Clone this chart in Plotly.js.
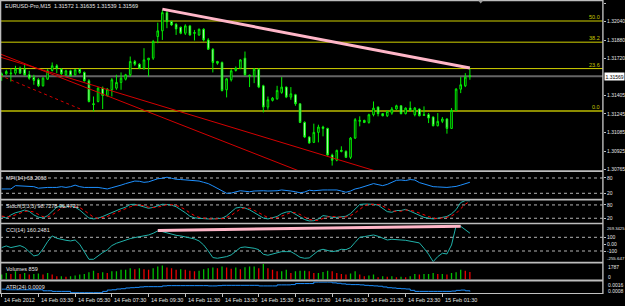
<!DOCTYPE html>
<html><head><meta charset="utf-8">
<script src="https://cdn.plot.ly/plotly-3.0.1.min.js"></script>
<style>html,body{margin:0;padding:0;background:#000;overflow:hidden}#chart{width:625px;height:306px}</style>
</head><body><div id="chart"></div>
<script>
// ---------------- DATA ----------------
const symbolTitle = "EURUSD-Pro,M15  1.31572 1.31635 1.31539 1.31569";
const tickLabels = ["14 Feb 2012","14 Feb 03:30","14 Feb 05:30","14 Feb 07:30","14 Feb 09:30","14 Feb 11:30","14 Feb 13:30","14 Feb 15:30","14 Feb 17:30","14 Feb 19:30","14 Feb 21:30","14 Feb 23:30","15 Feb 01:30"];
const tickBars = [0,8,16,24,32,40,48,56,64,72,80,88,96];
const priceTicks = [1.32200,1.32040,1.31880,1.31720,1.31405,1.31245,1.31085,1.30925,1.30765];

const open = [1.31573,1.31590,1.31590,1.31596,1.31639,1.31630,1.31582,1.31559,1.31539,1.31487,
1.31544,1.31619,1.31659,1.31630,1.31582,1.31616,1.31582,1.31630,1.31602,1.31530,
1.31332,1.31352,1.31467,1.31401,1.31453,1.31467,1.31516,1.31544,1.31582,1.31696,
1.31673,1.31639,1.31710,1.31725,1.31911,1.31960,1.32117,1.32040,1.32017,1.31991,
1.31940,1.32003,1.31945,1.31925,1.31974,1.31882,1.31802,1.31696,1.31688,1.31453,
1.31539,1.31619,1.31639,1.31725,1.31579,1.31573,1.31630,1.31487,1.31304,1.31361,
1.31375,1.31430,1.31476,1.31390,1.31410,1.31332,1.31172,1.31046,1.31000,1.31086,
1.31132,1.31120,1.30891,1.30846,1.30931,1.30923,1.30871,1.31037,1.31181,1.31189,
1.31172,1.31238,1.31304,1.31247,1.31229,1.31252,1.31287,1.31315,1.31247,1.31295,
1.31238,1.31287,1.31232,1.31238,1.31218,1.31143,1.31181,1.31201,1.31120,1.31275,
1.31458,1.31487,1.31572];
const high = [1.31602,1.31625,1.31639,1.31659,1.31653,1.31668,1.31616,1.31582,1.31553,1.31562,
1.31630,1.31688,1.31673,1.31639,1.31625,1.31625,1.31630,1.31639,1.31610,1.31544,
1.31395,1.31476,1.31481,1.31467,1.31553,1.31582,1.31602,1.31590,1.31739,1.31710,
1.31682,1.31811,1.31725,1.31882,1.32031,1.32140,1.32140,1.32048,1.32026,1.31997,
1.32017,1.32011,1.31968,1.31980,1.31983,1.31897,1.31811,1.31702,1.31696,1.31553,
1.31630,1.31653,1.31716,1.31782,1.31582,1.31639,1.31639,1.31496,1.31395,1.31390,
1.31487,1.31562,1.31481,1.31476,1.31418,1.31338,1.31181,1.31052,1.31161,1.31152,
1.31143,1.31126,1.30903,1.30937,1.30966,1.30931,1.31046,1.31209,1.31224,1.31195,
1.31247,1.31352,1.31310,1.31252,1.31275,1.31304,1.31324,1.31321,1.31301,1.31352,
1.31304,1.31292,1.31310,1.31252,1.31224,1.31252,1.31218,1.31209,1.31295,1.31467,
1.31562,1.31596,1.31635];
const low = [1.31530,1.31582,1.31524,1.31582,1.31590,1.31573,1.31539,1.31496,1.31476,1.31481,
1.31539,1.31610,1.31596,1.31573,1.31573,1.31567,1.31573,1.31590,1.31524,1.31344,
1.31267,1.31344,1.31287,1.31395,1.31395,1.31453,1.31453,1.31533,1.31567,1.31659,
1.31630,1.31625,1.31567,1.31710,1.31854,1.31882,1.31983,1.32003,1.31925,1.31931,
1.31925,1.31917,1.31877,1.31917,1.31868,1.31796,1.31602,1.31668,1.31438,1.31387,
1.31524,1.31610,1.31630,1.31573,1.31476,1.31510,1.31467,1.31258,1.31281,1.31352,
1.31367,1.31418,1.31381,1.31367,1.31315,1.31166,1.31037,1.30989,1.30994,1.31000,
1.31052,1.30886,1.30800,1.30837,1.30914,1.30866,1.30857,1.31029,1.31138,1.31166,
1.31161,1.31224,1.31224,1.31224,1.31218,1.31238,1.31281,1.31241,1.31241,1.31267,
1.31224,1.31224,1.31229,1.31166,1.31138,1.31138,1.31166,1.31075,1.31115,1.31267,
1.31424,1.31476,1.31539];
const close = [1.31590,1.31610,1.31596,1.31630,1.31596,1.31582,1.31553,1.31533,1.31487,1.31553,
1.31616,1.31659,1.31639,1.31590,1.31616,1.31573,1.31625,1.31602,1.31530,1.31352,
1.31327,1.31467,1.31404,1.31458,1.31539,1.31516,1.31553,1.31582,1.31696,1.31673,
1.31639,1.31710,1.31725,1.31868,1.31960,1.32117,1.32040,1.32011,1.31977,1.31940,
1.32003,1.31925,1.31940,1.31974,1.31882,1.31802,1.31688,1.31682,1.31447,1.31547,
1.31616,1.31639,1.31710,1.31582,1.31573,1.31630,1.31476,1.31304,1.31367,1.31381,
1.31447,1.31476,1.31390,1.31418,1.31332,1.31172,1.31046,1.30994,1.31086,1.31132,
1.31120,1.30891,1.30846,1.30931,1.30923,1.30871,1.31037,1.31195,1.31189,1.31172,
1.31238,1.31295,1.31247,1.31229,1.31267,1.31287,1.31315,1.31247,1.31295,1.31275,
1.31295,1.31229,1.31238,1.31209,1.31143,1.31181,1.31201,1.31120,1.31275,1.31458,
1.31496,1.31562,1.31569];

const mfi = [37,37,37,50,49,49,49,46,40,43,
43,43,43,46,43,46,52,46,43,43,
43,43,40,37,42,46,52,58,63,68,
67,63,65,72,77,79,83,79,75,74,
72,71,70,68,63,58,49,40,29,20,
21,25,30,28,26,29,30,30,29,29,
30,33,32,29,26,22,25,32,30,32,
33,33,34,33,29,24,29,37,41,46,
52,58,54,50,55,63,71,72,70,74,
72,62,57,52,46,45,43,43,45,47,
52,57,63.2063];
const stochMain = [27,21,35,45,50,57,51,35,25,21,
32,50,70,76,70,76,70,57,38,21,
17,20,28,37,47,55,63,70,82,83,
76,70,65,69,77,83,82,79,72,59,
45,29,22,20,17,17,17,17,20,31,
48,66,70,66,58,45,31,21,17,21,
28,41,48,50,38,24,14,8,9,17,
32,29,24,24,25,29,41,63,82,84,
84,83,79,63,50,47,55,55,60,52,
42,34,24,20,17,20,25,28,40,59,
91,99.7,98.7278];
const stochSignal = [30,26,28,34,43,51,53,48,37,27,
26,34,51,65,72,74,72,68,55,39,
25,19,22,28,37,46,55,63,72,78,
80,76,70,68,70,76,81,81,78,70,
59,44,32,24,20,18,17,17,18,23,
33,48,61,67,65,56,45,32,23,20,
22,30,39,46,45,37,25,15,10,11,
19,26,28,26,24,26,32,44,62,76,
83,84,82,75,64,53,51,52,57,56,
51,43,33,26,20,19,21,24,31,42,
63,83,96.4721];
const cci = [-50,-26,-50,-31,-21,-50,-109,-172,-157,-70,
37,120,86,66,56,47,61,-2,-119,-221,
-221,-167,-123,-85,-21,13,37,61,81,96,
110,120,134,159,193,183,164,144,129,120,
105,96,76,47,-12,-99,-196,-206,-196,-182,
-157,-99,-50,-41,-50,-60,-80,-148,-162,-143,
-128,-109,-109,-109,-148,-192,-206,-201,-148,-94,
-75,-89,-109,-99,-75,-80,-50,27,100,110,
120,134,115,86,61,71,71,61,56,47,
37,18,-60,-148,-255.647,-182,-133,-143,-12,269.3425,
260,215,160.2481];
const volume = [558,744,632,930,632,744,558,632,670,558,
744,558,372,372,298,372,446,558,632,818,
1004,744,818,744,930,930,1116,1116,1302,1190,
1302,1190,1116,1302,1488,1600,1376,1302,1116,1190,
1116,1004,930,1004,1190,1302,1376,1302,1488,1376,
1228,1376,1190,1414,1488,1488,1302,1787,1302,1116,
930,930,1116,744,930,1004,1004,930,744,744,
856,1004,930,744,632,558,670,930,558,372,
446,558,260,372,298,372,260,298,260,372,
632,558,632,632,744,632,632,558,744,818,
1116,1004,859];
const atr = [0.00108,0.00104,0.00104,0.00104,0.00104,0.00104,0.00104,0.00104,0.00104,0.00097,
0.00097,0.00093,0.00093,0.00093,0.00093,0.00084,0.00084,0.00084,0.00084,0.00084,
0.00084,0.00084,0.00093,0.00102,0.00104,0.00109,0.00111,0.00116,0.00118,0.00120,
0.00123,0.00125,0.00125,0.00125,0.00125,0.00130,0.00132,0.00132,0.00132,0.00132,
0.00132,0.00132,0.00132,0.00132,0.00132,0.00130,0.00130,0.00132,0.00134,0.00134,
0.00134,0.00134,0.00134,0.00134,0.00134,0.00134,0.00130,0.00130,0.00130,0.00130,
0.00137,0.00137,0.00137,0.00139,0.00146,0.00146,0.00146,0.00146,0.00156,0.00156,
0.00156,0.00156,0.00151,0.00148,0.00144,0.00141,0.00139,0.00139,0.00137,0.00134,
0.00132,0.00130,0.00128,0.00123,0.00118,0.00116,0.00113,0.00111,0.00109,0.00100,
0.00093,0.00093,0.00093,0.00093,0.00093,0.00093,0.00093,0.00093,0.00095,0.00100,
0.00102,0.00097,0.00092];

// Fibonacci retracement (0% and 100% anchor prices) and shown levels
const fib0 = 1.31269, fib100 = 1.32821;
const fibLevels = [50.0, 38.2, 23.6, 0.0];
// Trend lines (bar index, value)
const pinkPriceX = [35, 102], pinkPriceY = [1.32147, 1.31641];
const pinkCciX = [34, 100], pinkCciY = [200, 262];
const redAX = [-0.4, 85], redAY = [1.31735, 1.30711];
const redBX = [-0.4, 66], redBY = [1.31762, 1.30735];
const redCX = [-0.4, 17.5], redCY = [1.31577, 1.31281];
const mfiLevels = [80, 20], stochLevels = [80, 20], cciLevels = [100, -100];

// ---------------- LAYOUT HELPERS ----------------
const W = 625, H = 306, MT = 1, MB = 13, ML = 0, MR = 22;
const PH = H - MT - MB, PW = W - ML - MR;
const py = y => (H - MB - y) / PH;
const px = x => (x - ML) / PW;
const bars = open.map((_, i) => i);
const last = close.length - 1;
const fontFam = 'Liberation Sans, Arial, sans-serif';
const tf = {family: fontFam, size: 5.5, color: '#e6e6e6'};
const rf = {family: fontFam, size: 5, color: '#e6e6e6'};

function yax(topPx, botPx, range, tickvals, ticktext) {
  return {domain: [py(botPx), py(topPx)], range, side: 'right', anchor: 'x',
    showgrid: false, zeroline: false, showline: false, ticks: 'outside', ticklen: 2,
    tickwidth: 1, tickcolor: '#c0c0c0', tickvals, ticktext, tickfont: rf, fixedrange: true};
}
const cciMax = Math.max(...cci), cciMin = Math.min(...cci);
const volMax = Math.max(...volume);
const atrMax = Math.max(...atr), atrMin = Math.min(...atr);

const layout = {
  width: W, height: H, margin: {l: ML, r: MR, t: MT, b: MB},
  paper_bgcolor: '#000', plot_bgcolor: '#000', showlegend: false,
  boxgap: 0.5,
  xaxis: {domain: [0, 1], range: [-0.37, 131.0], anchor: 'y6', showgrid: false, zeroline: false,
    showline: true, linecolor: '#c0c0c0', linewidth: 1, ticks: 'outside', ticklen: 3, tickcolor: '#c0c0c0',
    tickvals: tickBars, showticklabels: false, rangeslider: {visible: false}, fixedrange: true},
  yaxis: yax(2, 170, [1.30762, 1.322086], priceTicks, priceTicks.map(v => v.toFixed(5))),
  yaxis2: yax(172, 198.7, [-1.2, 103.5], mfiLevels, mfiLevels.map(String)),
  yaxis3: yax(200.5, 222.7, [0, 100], stochLevels, stochLevels.map(String)),
  yaxis4: yax(224.3, 261.8, [-257.7, 289.8], [100, 0, -100], ['100', '0.00', '-100']),
  yaxis5: yax(263.6, 279.4, [0, 1830], [], []),
  yaxis6: yax(281.5, 293, [0.00082, 0.00160], [], []),
  shapes: [], annotations: []
};

// fib lines + labels
const fibColors = ['#d2d200', '#8c8c00', '#d2d200', '#8c8c00'];
const fibWidths = [1, 1.5, 1, 2];
fibLevels.forEach((lv, k) => {
  const p = fib0 + (fib100 - fib0) * lv / 100;
  layout.shapes.push({type: 'line', xref: 'paper', yref: 'y', x0: 0, x1: 1, y0: p, y1: p,
    line: {color: fibColors[k], width: fibWidths[k]}, layer: 'below'});
  layout.annotations.push({xref: 'paper', yref: 'y', x: px(602), y: p, xanchor: 'right', yanchor: 'bottom',
    text: lv.toFixed(1), showarrow: false, font: {family: fontFam, size: 5.5, color: '#c8c800'}, yshift: -1});
});
// bid line
layout.shapes.push({type: 'line', xref: 'paper', yref: 'y', x0: 0, x1: 1, y0: close[last], y1: close[last],
  line: {color: '#656565', width: 2}, layer: 'below'});
// level dotted lines
[['y2', mfiLevels], ['y3', stochLevels], ['y4', cciLevels]].forEach(([ax, lv]) => lv.forEach(v =>
  layout.shapes.push({type: 'line', xref: 'paper', yref: ax, x0: 0, x1: 1, y0: v, y1: v,
    line: {color: '#b4b4b4', width: 1, dash: 'dot'}, layer: 'below'})));
// panel separators and borders
[[0, 1.3], [170.2, 172], [198.7, 200.5], [222.7, 224.3], [261.8, 263.6], [279.4, 281.5]].forEach(([a, b]) =>
  layout.shapes.push({type: 'rect', xref: 'paper', yref: 'paper', x0: 0, x1: 1, y0: py(b), y1: py(a),
    fillcolor: '#bdbdbd', line: {width: 0}, layer: 'above'}));
layout.shapes.push({type: 'rect', xref: 'paper', yref: 'paper', x0: 0, x1: px(1.3), y0: py(294), y1: py(0),
  fillcolor: '#bdbdbd', line: {width: 0}, layer: 'above'});
layout.shapes.push({type: 'rect', xref: 'paper', yref: 'paper', x0: px(602.2), x1: px(603.6), y0: py(294), y1: py(0),
  fillcolor: '#bdbdbd', line: {width: 0}, layer: 'above'});
// chart shift marker
layout.shapes.push({type: 'path', xref: 'paper', yref: 'paper',
  path: `M ${px(478.2)},${py(0.5)} L ${px(483.2)},${py(0.5)} L ${px(480.7)},${py(3.5)} Z`,
  fillcolor: '#9a9a9a', line: {width: 0}, layer: 'above'});

// texts
const txt = (x, y, s) => ({xref: 'paper', yref: 'paper', x: px(x), y: py(y), xanchor: 'left', yanchor: 'middle',
  text: s, showarrow: false, font: tf});
layout.annotations.push(txt(3, 5.5, symbolTitle));
layout.annotations.push(txt(4, 178.3, 'MFI(14) ' + mfi[last].toFixed(4)));
layout.annotations.push(txt(4, 205.7, 'Stoch(5,3,3) ' + stochMain[last].toFixed(4) + ' ' + stochSignal[last].toFixed(4)));
layout.annotations.push(txt(4, 230, 'CCI(14) ' + cci[last].toFixed(4)));
layout.annotations.push(txt(4, 269, 'Volumes ' + volume[last]));
layout.annotations.push(txt(4, 286.7, 'ATR(24) ' + atr[last].toFixed(4)));
// time labels (MT4 style: text starts at the tick)
tickBars.forEach((b, k) => layout.annotations.push({xref: 'x', yref: 'paper', x: b, y: py(299.5),
  xanchor: 'left', yanchor: 'middle', xshift: 0.5, text: tickLabels[k], showarrow: false, font: tf}));
// window max / min scale labels on the right
const rlab = (y, s, size, shift) => ({xref: 'paper', yref: 'paper', x: 1, y: py(y), xanchor: 'left', yanchor: 'middle',
  xshift: shift === undefined ? 3 : shift, text: s, showarrow: false, font: {family: fontFam, size: size || 5, color: '#e6e6e6'}});
layout.annotations.push(rlab(228.2, String(cciMax), 4.2, 2));
layout.annotations.push(rlab(258.3, String(cciMin), 4.4, 2));
layout.annotations.push(rlab(267, String(volMax)));
layout.annotations.push(rlab(276.7, '0'));
layout.annotations.push(rlab(285, atrMax.toFixed(4)));
layout.annotations.push(rlab(291, atrMin.toFixed(4)));
// current price box
layout.annotations.push({xref: 'paper', yref: 'y', x: 1, y: close[last], xanchor: 'left', yanchor: 'middle', xshift: 1,
  text: close[last].toFixed(5), showarrow: false, bgcolor: '#ffffff', borderpad: 0.5,
  font: {family: fontFam, size: 5, color: '#000000'}});

// ---------------- TRACES ----------------
const volColors = volume.map((v, i) => (i === 0 || v >= volume[i - 1]) ? '#00c000' : '#ee0000');
const traces = [
  {type: 'candlestick', x: bars, open, high, low, close, xaxis: 'x', yaxis: 'y', hoverinfo: 'skip',
    whiskerwidth: 0,
    increasing: {line: {color: '#00f000', width: 1}, fillcolor: '#000000'},
    decreasing: {line: {color: '#00f000', width: 1}, fillcolor: '#ffffff'}},
  {type: 'scatter', mode: 'lines', x: redAX, y: redAY, xaxis: 'x', yaxis: 'y', line: {color: '#d40000', width: 1}, hoverinfo: 'skip'},
  {type: 'scatter', mode: 'lines', x: redBX, y: redBY, xaxis: 'x', yaxis: 'y', line: {color: '#d40000', width: 1}, hoverinfo: 'skip'},
  {type: 'scatter', mode: 'lines', x: redCX, y: redCY, xaxis: 'x', yaxis: 'y', line: {color: '#d40000', width: 1, dash: 'dot'}, hoverinfo: 'skip'},
  {type: 'scatter', mode: 'lines', x: pinkPriceX, y: pinkPriceY, xaxis: 'x', yaxis: 'y', line: {color: '#ffb6c8', width: 3}, hoverinfo: 'skip'},
  {type: 'scatter', mode: 'lines', x: bars, y: mfi, xaxis: 'x', yaxis: 'y2', line: {color: '#1e90ff', width: 1}, hoverinfo: 'skip'},
  {type: 'scatter', mode: 'lines', x: bars, y: stochMain, xaxis: 'x', yaxis: 'y3', line: {color: '#20b2aa', width: 1}, hoverinfo: 'skip'},
  {type: 'scatter', mode: 'lines', x: bars, y: stochSignal, xaxis: 'x', yaxis: 'y3', line: {color: '#ff0000', width: 1, dash: 'dot'}, hoverinfo: 'skip'},
  {type: 'scatter', mode: 'lines', x: bars, y: cci, xaxis: 'x', yaxis: 'y4', line: {color: '#20b2aa', width: 1}, hoverinfo: 'skip'},
  {type: 'scatter', mode: 'lines', x: pinkCciX, y: pinkCciY, xaxis: 'x', yaxis: 'y4', line: {color: '#ffb6c8', width: 3}, hoverinfo: 'skip'},
  {type: 'bar', x: bars, y: volume, xaxis: 'x', yaxis: 'y5', width: 0.28, marker: {color: volColors, line: {width: 0}}, hoverinfo: 'skip'},
  {type: 'scatter', mode: 'lines', x: bars, y: atr, xaxis: 'x', yaxis: 'y6', line: {color: '#1e90ff', width: 1, shape: 'hv'}, hoverinfo: 'skip'}
];

Plotly.newPlot('chart', traces, layout, {staticPlot: true, displayModeBar: false});
</script>
</body></html>
